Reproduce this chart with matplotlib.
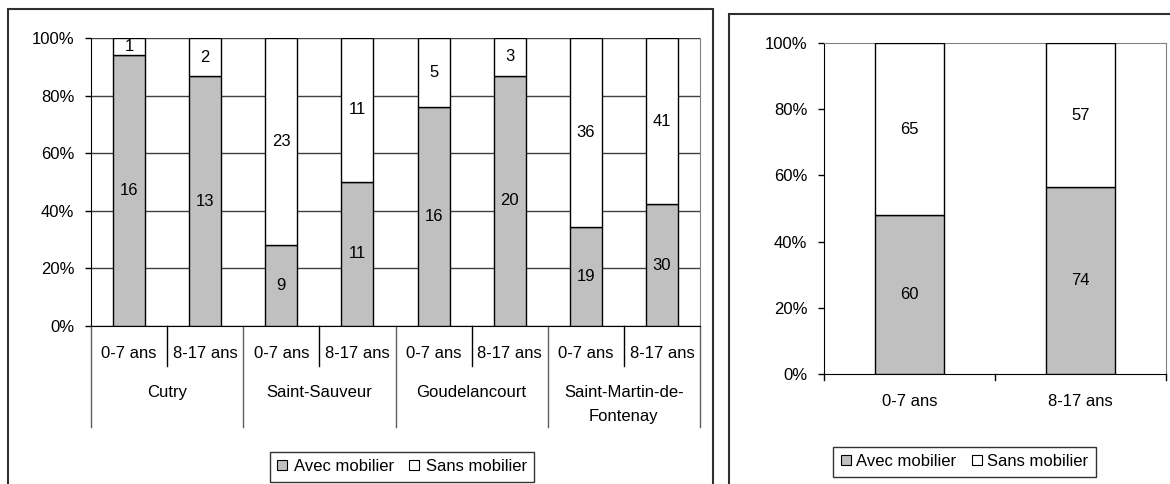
import matplotlib
matplotlib.use("Agg")
import matplotlib.pyplot as plt
from matplotlib.patches import Rectangle, Patch
import numpy as np

plt.rcParams['font.family'] = ['Liberation Sans', 'DejaVu Sans']
plt.rcParams['font.size'] = 12

# data
communes = ['Cutry', 'Saint-Sauveur', 'Goudelancourt', 'Saint-Martin-de-\nFontenay']
ages = ['0-7 ans', '8-17 ans']
avec = [16, 13, 9, 11, 16, 20, 19, 30]
sans = [1, 2, 23, 11, 5, 3, 36, 41]

tot_ages = ['0-7 ans', '8-17 ans']
tot_avec = [60, 74]
tot_sans = [65, 57]

series_names = ['Avec mobilier', 'Sans mobilier']
grey = '#C0C0C0'

W, H = 1170, 484
fig = plt.figure(figsize=(W / 100, H / 100), dpi=100)


def box(x0, y0, x1, y1):
    # pixel coords (top-left origin) -> figure fraction
    return [x0 / W, 1 - y1 / H, (x1 - x0) / W, (y1 - y0) / H]


# panel frames
for (x0, y0, x1, y1) in [(8, 9, 713, 490), (729, 14, 1180, 490)]:
    fig.patches.append(Rectangle((x0 / W, 1 - y1 / H), (x1 - x0) / W, (y1 - y0) / H,
                                 transform=fig.transFigure, fill=False,
                                 edgecolor='#303030', linewidth=1.5, zorder=0))


def stacked(ax, a, s, width):
    a = np.array(a, float)
    s = np.array(s, float)
    pa = a / (a + s) * 100
    ps = s / (a + s) * 100
    x = np.arange(len(a))
    ax.bar(x, pa, width, color=grey, edgecolor='black', linewidth=1, zorder=3)
    ax.bar(x, ps, width, bottom=pa, color='white', edgecolor='black', linewidth=1, zorder=3)
    for i in range(len(a)):
        ax.text(x[i], pa[i] / 2, '%d' % a[i], ha='center', va='center', zorder=4)
        ax.text(x[i], pa[i] + ps[i] / 2, '%d' % s[i], ha='center', va='center', zorder=4)
    ax.set_ylim(0, 100)
    ax.set_yticks(np.arange(0, 101, 20))
    ax.set_yticklabels(['%d%%' % v for v in range(0, 101, 20)])
    ax.set_xlim(-0.5, len(a) - 0.5)
    ax.set_xticks([])
    ax.tick_params(axis='y', direction='out', length=4, width=1, color='black', pad=8)
    ax.spines['top'].set_visible(False)
    ax.spines['right'].set_color('#808080')
    for sp in ['left', 'bottom']:
        ax.spines[sp].set_color('black')
    return x


# ---- left chart
ax1 = fig.add_axes(box(91, 38, 700, 326))
x1 = stacked(ax1, avec, sans, 0.42)
ax1.yaxis.grid(True, color='#404040', linewidth=1, zorder=1)
ax1.set_axisbelow(True)

trans = ax1.get_xaxis_transform()
ph = 288.0
for i in range(len(avec)):
    ax1.text(x1[i], -27 / ph, ages[i % 2], ha='center', va='center', transform=trans)
for g in range(len(communes)):
    ax1.text(2 * g + 0.5, -59 / ph, communes[g], ha='center', va='top',
             transform=trans, linespacing=1.75)
for b in range(len(avec) + 1):
    xb = b - 0.5
    if b % 2 == 0:
        ax1.plot([xb, xb], [0, -101 / ph], color='#606060', lw=1, transform=trans, clip_on=False)
    else:
        ax1.plot([xb, xb], [0, -40 / ph], color='black', lw=1, transform=trans, clip_on=False)

handles = [Patch(facecolor=grey, edgecolor='black', linewidth=0.8),
           Patch(facecolor='white', edgecolor='black', linewidth=0.8)]
leg1 = fig.legend(handles, series_names, loc='center', bbox_to_anchor=(402 / W, 1 - 466.5 / H),
                  ncol=2, frameon=True, fancybox=False, handlelength=0.6, handleheight=0.6,
                  handletextpad=0.4, columnspacing=0.9, borderpad=0.45, fontsize=12)
leg1.get_frame().set_edgecolor('black')
leg1.get_frame().set_linewidth(1)

# ---- right chart
ax2 = fig.add_axes(box(824, 43, 1166, 374))
x2 = stacked(ax2, tot_avec, tot_sans, 0.4)
ax2.spines['top'].set_visible(True)
ax2.spines['top'].set_color('#808080')
trans2 = ax2.get_xaxis_transform()
for i in range(len(tot_avec)):
    ax2.text(x2[i], -28 / 331.0, tot_ages[i], ha='center', va='center', transform=trans2)
for xb in [-0.5, 0.5, 1.5]:
    ax2.plot([xb, xb], [0, -6 / 331.0], color='black', lw=1, transform=trans2, clip_on=False)

leg2 = fig.legend(handles, series_names, loc='center', bbox_to_anchor=(964.5 / W, 1 - 461.5 / H),
                  ncol=2, frameon=True, fancybox=False, handlelength=0.6, handleheight=0.6,
                  handletextpad=0.3, columnspacing=1.0, borderpad=0.45, fontsize=12)
leg2.get_frame().set_edgecolor('black')
leg2.get_frame().set_linewidth(1)

fig.savefig('out.png', dpi=100)
